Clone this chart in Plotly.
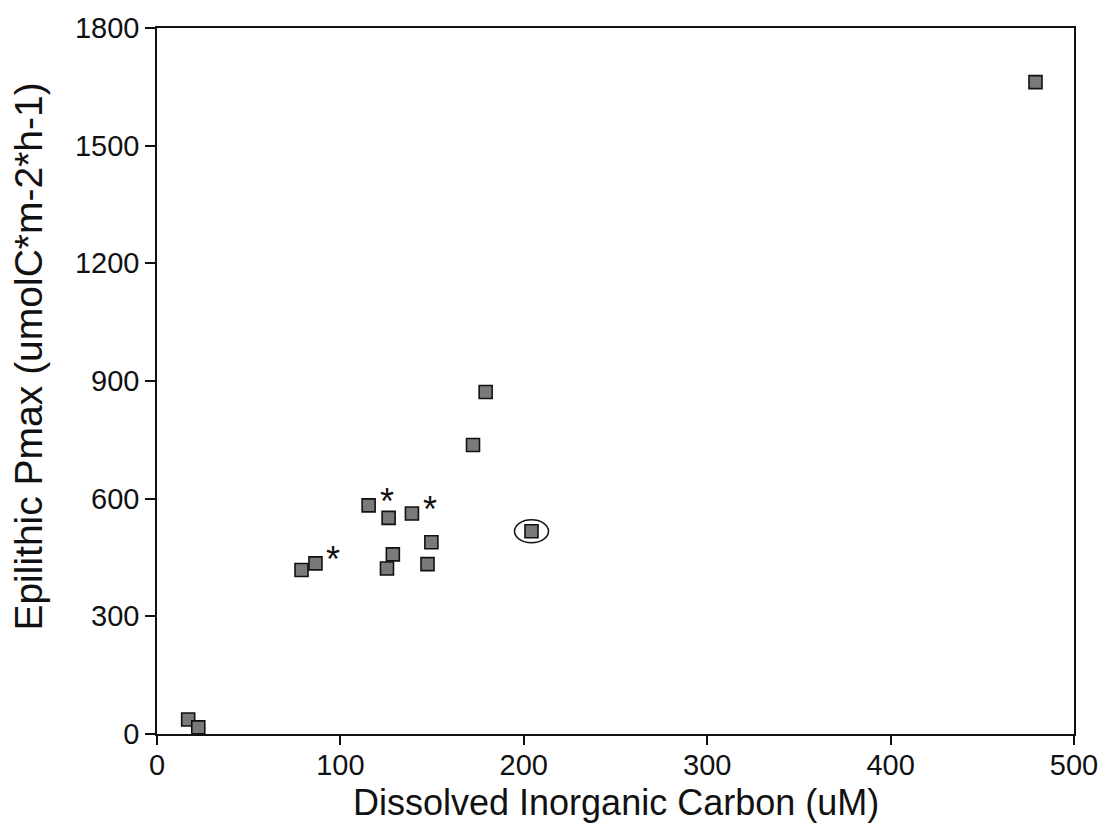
import plotly.graph_objects as go

# Data
dic = [17, 22.5, 78.8, 86.4, 115.4, 125.4, 126.3, 128.6, 139, 147.5, 149.6, 172.3, 179.2, 204.2, 479]
pmax = [37, 17, 418, 435, 583, 422, 551, 458, 562, 433, 489, 737, 872, 517, 1662]
starred = [3, 4, 8]      # points flagged with an asterisk
circled = [13]           # point surrounded by an ellipse
x_ticks = [0, 100, 200, 300, 400, 500]
y_ticks = [0, 300, 600, 900, 1200, 1500, 1800]

FONT = "Arial, 'Liberation Sans', Helvetica, sans-serif"

fig = go.Figure()
fig.add_trace(go.Scatter(
    x=dic, y=pmax, mode="markers",
    marker=dict(symbol="square", size=13, color="#7a7a7a",
                line=dict(color="#111111", width=1.6)),
    showlegend=False, hoverinfo="x+y",
))

annotations = []
for i in starred:
    annotations.append(dict(
        x=dic[i], y=pmax[i], xref="x", yref="y", text="*", showarrow=False,
        xshift=18, yshift=4, font=dict(family=FONT, size=36, color="#111111"),
    ))

shapes = []
for i in circled:
    shapes.append(dict(
        type="circle", xref="x", yref="y", xsizemode="pixel", ysizemode="pixel",
        xanchor=dic[i], yanchor=pmax[i], x0=-17, x1=17, y0=-11.5, y1=11.5,
        line=dict(color="#111111", width=1.5),
    ))

# Axis titles as annotations for precise placement
annotations.append(dict(
    text="Dissolved Inorganic Carbon (uM)", xref="paper", yref="paper",
    x=0.5, y=-0.097, xanchor="center", yanchor="middle", showarrow=False,
    font=dict(family=FONT, size=36, color="#111111"),
))
annotations.append(dict(
    text="Epilithic Pmax (umolC*m-2*h-1)", xref="paper", yref="paper",
    x=-0.140, y=0.534, xanchor="center", yanchor="middle", textangle=-90,
    showarrow=False, font=dict(family=FONT, size=39, color="#111111"),
))

axis_common = dict(
    showline=True, linecolor="#111111", linewidth=1.6, mirror=True,
    ticks="outside", tickwidth=1.5, tickcolor="#111111",
    showgrid=False, zeroline=False,
    tickfont=dict(family=FONT, size=29, color="#111111"),
)

fig.update_layout(
    width=1110, height=827,
    margin=dict(l=157, r=33, t=24, b=93),
    paper_bgcolor="white", plot_bgcolor="white",
    xaxis=dict(range=[0, 500], tickvals=x_ticks, ticklen=9,
               ticklabelstandoff=-5, **axis_common),
    yaxis=dict(range=[0, 1800], tickvals=y_ticks, ticklen=10, **axis_common),
    annotations=annotations, shapes=shapes,
)

fig.write_html("out.html")
